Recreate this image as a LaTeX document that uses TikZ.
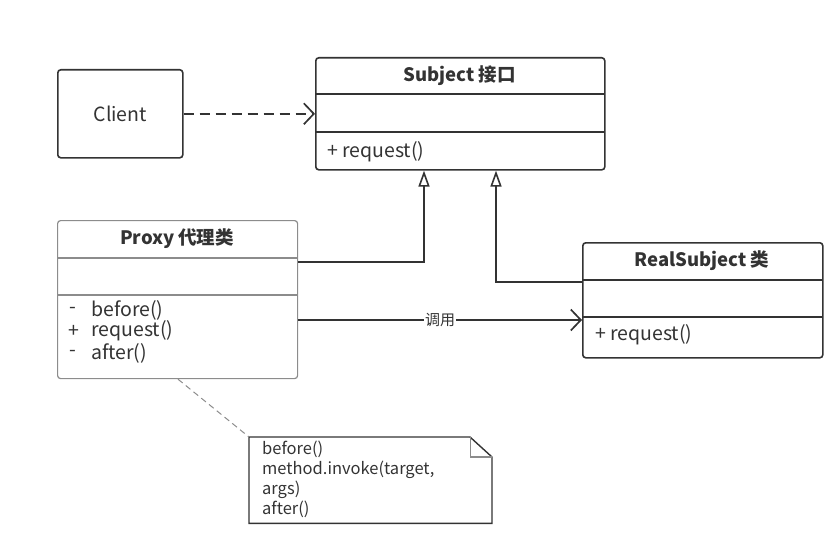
\documentclass[tikz,border=0pt]{standalone}
\usepackage{fontspec}
\setmainfont{Noto Sans CJK SC}
\usetikzlibrary{arrows.meta}
\definecolor{ink}{HTML}{333333}
\definecolor{soft}{HTML}{8C8C8C}
\begin{document}
\begin{tikzpicture}[x=1pt,y=-1pt,
  box/.style={draw=ink,line width=1.6pt,rounded corners=3pt,fill=white,anchor=north west,inner sep=0pt},
  softbox/.style={box,draw=soft,line width=1.2pt},
  ctitle/.style={text=ink,font=\fontsize{18.5}{20}\selectfont\bfseries,inner sep=0pt},
  ctext/.style={text=ink,font=\fontsize{19.5}{21}\selectfont,inner sep=0pt,anchor=west},
  conn/.style={draw=ink,line width=1.7pt},
  gen/.style={conn,-{Triangle[open,length=16pt,width=11pt,line width=1.6pt]}},
  barb/.style={conn,-{Straight Barb[length=10pt,width=21pt,line width=1.7pt]}},
  notetext/.style={text=ink,font=\fontsize{16.5}{20}\selectfont,align=left,inner sep=0pt,anchor=north west}
]
\useasboundingbox (0,0) rectangle (836,543);

% Client
\node[box,minimum width=125pt,minimum height=88pt,font=\fontsize{19.5}{21}\selectfont,text=ink] (client) at (57,69) {Client};

% Subject
\node[box,minimum width=289pt,minimum height=112pt] (subj) at (315,57) {};
\draw[ink,line width=1.6pt] (315,94) -- (604,94);
\draw[ink,line width=1.6pt] (315,132) -- (604,132);
\node[ctitle] (subjt) at (459.5,75.5) {Subject 接口};
\node[ctext] (subjm) at (327,152) {+ request()};

% Proxy
\node[softbox,minimum width=240pt,minimum height=158pt] (proxy) at (57,220) {};
\draw[soft,line width=1.2pt] (57,258) -- (297,258);
\draw[soft,line width=1.2pt] (57,295) -- (297,295);
\node[ctitle] (proxyt) at (177,239) {Proxy 代理类};
\node[ctext] (ps1) at (69,310) {-};
\node[ctext] (pm1) at (91,310) {before()};
\node[ctext] (ps2) at (68,331) {+};
\node[ctext] (pm2) at (91,331) {request()};
\node[ctext] (ps3) at (69,353) {-};
\node[ctext] (pm3) at (91,353) {after()};

% RealSubject
\node[box,minimum width=240pt,minimum height=115pt] (real) at (582,242) {};
\draw[ink,line width=1.6pt] (582,280) -- (822,280);
\draw[ink,line width=1.6pt] (582,317) -- (822,317);
\node[ctitle] (realt) at (702,261) {RealSubject 类};
\node[ctext] (realm) at (595,335) {+ request()};

% Note
\node[anchor=north west,minimum width=243pt,minimum height=86pt,inner sep=0pt] (note) at (249,437) {};
\draw[ink,line width=1.4pt] (note.north west) -- ++(221,0) -- ++(22,20) |- (note.south west) -- cycle;
\draw[soft,line width=1.2pt] ([xshift=-22pt]note.north east) -- ++(0,20) -- ++(22,0);
\node[notetext] (notet) at (262,441) {before()\\method.invoke(target,\\args)\\after()};

% Connectors
\draw[barb,dash pattern=on 10pt off 6pt] (client.east) -- (subj.west |- client.east);
\draw[gen] (proxy.east |- 0,262) -| (424,0 |- subj.south);
\draw[gen] (real.west |- 0,282) -| (496,0 |- subj.south);
\draw[barb] (proxy.east |- 0,320) -- (real.west |- 0,320)
  node[pos=0.5,fill=white,inner sep=1pt,text=ink,font=\fontsize{15}{17}\selectfont] (calllbl) {调用};
\draw[soft,line width=1pt,dash pattern=on 6pt off 4pt] (178,0 |- proxy.south) -- (note.north west);
\end{tikzpicture}
\end{document}
